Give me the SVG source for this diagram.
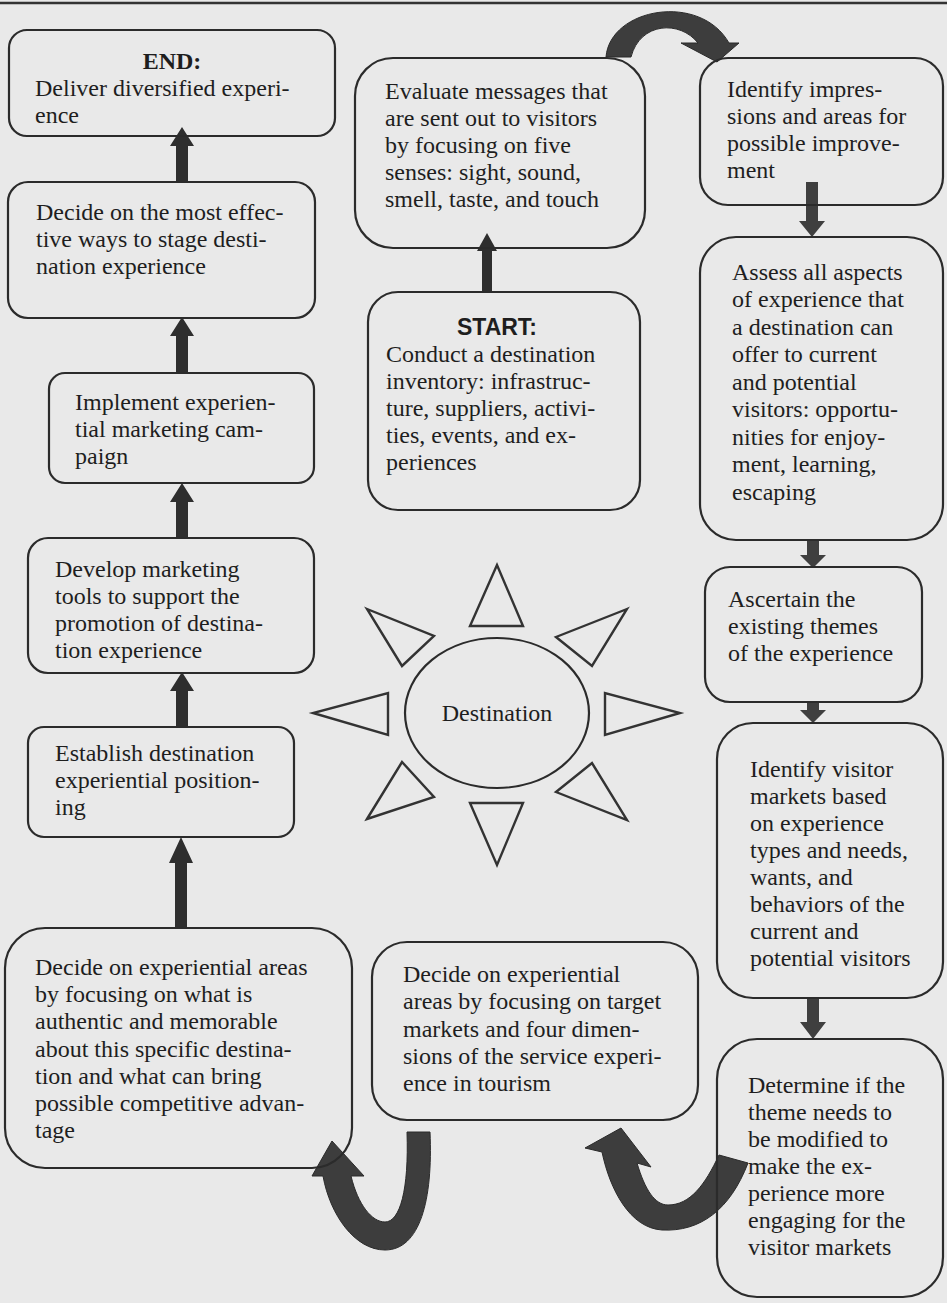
<svg xmlns="http://www.w3.org/2000/svg" width="947" height="1303" viewBox="0 0 947 1303">
<style>
.bg{fill:#e9e9e9}
.box{fill:none;stroke:#2b2b2b;stroke-width:2.2}
.t{font-family:"Liberation Serif","Times New Roman",serif;font-size:24px;fill:#1e1e1e}
.tb{font-family:"Liberation Serif","Times New Roman",serif;font-size:24px;font-weight:bold;fill:#1e1e1e}
.ts{font-family:"Liberation Sans",Arial,sans-serif;font-size:23px;font-weight:bold;fill:#1e1e1e}
.arr{fill:#2e2e2e}
.arrd{fill:#3f3f3f}
.curve{fill:#3d3d3d;stroke:#2a2a2a;stroke-width:1}
.tri{fill:none;stroke:#333;stroke-width:2.4;stroke-linejoin:miter}
</style>
<rect class="bg" x="0" y="0" width="947" height="1303"/>
<line x1="0" y1="3" x2="947" y2="3" stroke="#333" stroke-width="2.5"/>

<g id="connectors">
  <path class="arr" d="M176,182 L176,146 L170,146 L182,127 L194,146 L188,146 L188,182 Z"/>
  <path class="arr" d="M176,373 L176,336 L170,336 L182,317 L194,336 L188,336 L188,373 Z"/>
  <path class="arr" d="M176,538 L176,502 L170,502 L182,483 L194,502 L188,502 L188,538 Z"/>
  <path class="arr" d="M176,727 L176,691 L170,691 L182,672 L194,691 L188,691 L188,727 Z"/>
  <path class="arr" d="M175,928 L175,863 L169,863 L181,837 L193,863 L187,863 L187,928 Z"/>
  <path class="arr" d="M482,292 L482,251 L477,251 L487,233 L497,251 L492,251 L492,292 Z"/>
  <path class="arrd" d="M806,182 L806,221 L799,221 L812,237 L825,221 L818,221 L818,182 Z"/>
  <path class="arrd" d="M807,540 L807,555 L800,555 L813,568 L826,555 L819,555 L819,540 Z"/>
  <path class="arrd" d="M807,702 L807,710 L800,710 L813,723 L826,710 L819,710 L819,702 Z"/>
  <path class="arrd" d="M807,998 L807,1022 L800,1022 L813,1039 L826,1022 L819,1022 L819,998 Z"/>
  <path class="curve" d="M606,57 C610,8 700,-8 729,43 L739,43 L717,62 L681,43 L698,43 C680,20 640,22 631,57 Z"/>
  <path class="curve" d="M430,1132 C433,1200 420,1250 385,1250 C355,1250 330,1215 323,1176 L312,1176 L332,1141 L364,1176 L351,1176 C358,1205 372,1222 385,1222 C400,1222 409,1190 407,1132 Z"/>
  <path class="curve" d="M748,1163 C730,1210 700,1232 662,1230 C630,1228 610,1190 602,1152 L585,1148 L621,1128 L651,1167 L637,1163 C645,1190 655,1205 668,1205 C690,1205 705,1185 719,1155 Z"/>
</g>

<g id="n-end">
  <rect class="box" x="9" y="30" width="326" height="106" rx="18"/>
  <text class="tb" x="172" y="69" text-anchor="middle">END:</text>
  <text class="t" x="35" y="96">Deliver diversified experi-</text>
  <text class="t" x="35" y="123">ence</text>
</g>
<g id="n-stage">
  <rect class="box" x="8" y="182" width="307" height="136" rx="20"/>
  <text class="t" x="36" y="220">Decide on the most effec-</text>
  <text class="t" x="36" y="247">tive ways to stage desti-</text>
  <text class="t" x="36" y="274">nation experience</text>
</g>
<g id="n-implement">
  <rect class="box" x="49" y="373" width="265" height="110" rx="16"/>
  <text class="t" x="75" y="410">Implement experien-</text>
  <text class="t" x="75" y="437">tial marketing cam-</text>
  <text class="t" x="75" y="464">paign</text>
</g>
<g id="n-develop">
  <rect class="box" x="28" y="538" width="286" height="135" rx="20"/>
  <text class="t" x="55" y="577">Develop marketing</text>
  <text class="t" x="55" y="604">tools to support the</text>
  <text class="t" x="55" y="631">promotion of destina-</text>
  <text class="t" x="55" y="658">tion experience</text>
</g>
<g id="n-establish">
  <rect class="box" x="28" y="727" width="266" height="110" rx="16"/>
  <text class="t" x="55" y="761">Establish destination</text>
  <text class="t" x="55" y="788">experiential position-</text>
  <text class="t" x="55" y="815">ing</text>
</g>
<g id="n-authentic">
  <rect class="box" x="5" y="928" width="347" height="240" rx="40"/>
  <text class="t" x="35" y="975">Decide on experiential areas</text>
  <text class="t" x="35" y="1002">by focusing on what is</text>
  <text class="t" x="35" y="1029">authentic and memorable</text>
  <text class="t" x="35" y="1057">about this specific destina-</text>
  <text class="t" x="35" y="1084">tion and what can bring</text>
  <text class="t" x="35" y="1111">possible competitive advan-</text>
  <text class="t" x="35" y="1138">tage</text>
</g>
<g id="n-evaluate">
  <rect class="box" x="355" y="58" width="290" height="190" rx="38"/>
  <text class="t" x="385" y="99">Evaluate messages that</text>
  <text class="t" x="385" y="126">are sent out to visitors</text>
  <text class="t" x="385" y="153">by focusing on five</text>
  <text class="t" x="385" y="180">senses: sight, sound,</text>
  <text class="t" x="385" y="207">smell, taste, and touch</text>
</g>
<g id="n-start">
  <rect class="box" x="368" y="292" width="272" height="218" rx="30"/>
  <text class="ts" x="497" y="335" text-anchor="middle">START:</text>
  <text class="t" x="386" y="362">Conduct a destination</text>
  <text class="t" x="386" y="389">inventory: infrastruc-</text>
  <text class="t" x="386" y="416">ture, suppliers, activi-</text>
  <text class="t" x="386" y="443">ties, events, and ex-</text>
  <text class="t" x="386" y="470">periences</text>
</g>
<g id="n-destination">
  <ellipse class="box" cx="497" cy="713" rx="92" ry="75"/>
  <text class="t" x="497" y="721" text-anchor="middle">Destination</text>
  <polygon class="tri" points="497,565 470,626 523,626"/>
  <polygon class="tri" points="470,803 523,803 497,865"/>
  <polygon class="tri" points="605,693 605,735 680,713"/>
  <polygon class="tri" points="388,693 388,735 313,713"/>
  <polygon class="tri" points="627,609 556,637 592,666"/>
  <polygon class="tri" points="367,609 434,636 402,666"/>
  <polygon class="tri" points="556,792 592,763 627,820"/>
  <polygon class="tri" points="367,819 402,762 434,797"/>
</g>
<g id="n-target">
  <rect class="box" x="372" y="942" width="326" height="178" rx="35"/>
  <text class="t" x="403" y="982">Decide on experiential</text>
  <text class="t" x="403" y="1009">areas by focusing on target</text>
  <text class="t" x="403" y="1037">markets and four dimen-</text>
  <text class="t" x="403" y="1064">sions of the service experi-</text>
  <text class="t" x="403" y="1091">ence in tourism</text>
</g>
<g id="n-impressions">
  <rect class="box" x="700" y="58" width="243" height="147" rx="28"/>
  <text class="t" x="727" y="97">Identify impres-</text>
  <text class="t" x="727" y="124">sions and areas for</text>
  <text class="t" x="727" y="151">possible improve-</text>
  <text class="t" x="727" y="178">ment</text>
</g>
<g id="n-assess">
  <rect class="box" x="700" y="237" width="243" height="303" rx="36"/>
  <text class="t" x="732" y="280">Assess all aspects</text>
  <text class="t" x="732" y="307">of experience that</text>
  <text class="t" x="732" y="335">a destination can</text>
  <text class="t" x="732" y="362">offer to current</text>
  <text class="t" x="732" y="390">and potential</text>
  <text class="t" x="732" y="417">visitors: opportu-</text>
  <text class="t" x="732" y="445">nities for enjoy-</text>
  <text class="t" x="732" y="472">ment, learning,</text>
  <text class="t" x="732" y="500">escaping</text>
</g>
<g id="n-themes">
  <rect class="box" x="705" y="567" width="217" height="135" rx="25"/>
  <text class="t" x="728" y="607">Ascertain the</text>
  <text class="t" x="728" y="634">existing themes</text>
  <text class="t" x="728" y="661">of the experience</text>
</g>
<g id="n-markets">
  <rect class="box" x="717" y="723" width="226" height="275" rx="36"/>
  <text class="t" x="750" y="777">Identify visitor</text>
  <text class="t" x="750" y="804">markets based</text>
  <text class="t" x="750" y="831">on experience</text>
  <text class="t" x="750" y="858">types and needs,</text>
  <text class="t" x="750" y="885">wants, and</text>
  <text class="t" x="750" y="912">behaviors of the</text>
  <text class="t" x="750" y="939">current and</text>
  <text class="t" x="750" y="966">potential visitors</text>
</g>
<g id="n-theme-mod">
  <rect class="box" x="717" y="1039" width="226" height="258" rx="40"/>
  <text class="t" x="748" y="1093">Determine if the</text>
  <text class="t" x="748" y="1120">theme needs to</text>
  <text class="t" x="748" y="1147">be modified to</text>
  <text class="t" x="748" y="1174">make the ex-</text>
  <text class="t" x="748" y="1201">perience more</text>
  <text class="t" x="748" y="1228">engaging for the</text>
  <text class="t" x="748" y="1255">visitor markets</text>
</g>
</svg>
